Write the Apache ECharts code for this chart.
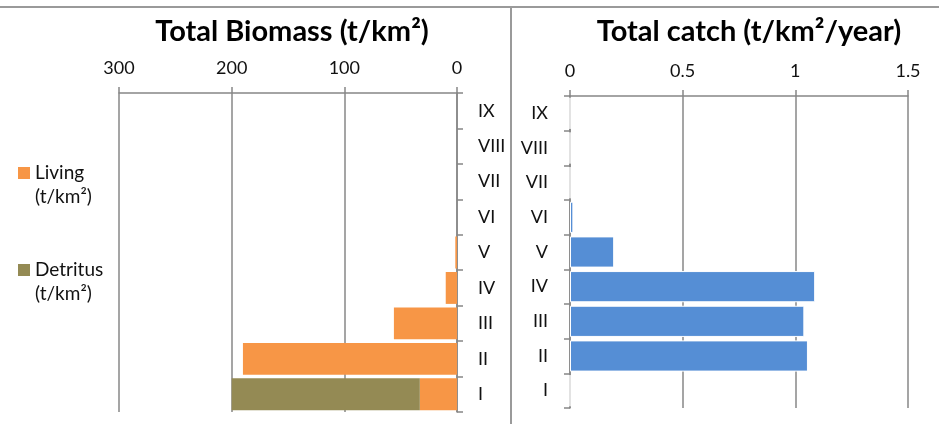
<!DOCTYPE html>
<html>
<head>
<meta charset="utf-8">
<script src="https://cdn.jsdelivr.net/npm/echarts@6/dist/echarts.min.js"></script>
<style>
  html, body { margin: 0; padding: 0; background: #fff; }
  #chart { width: 939px; height: 424px; }
</style>
</head>
<body>
<div id="chart"></div>
<script>
const levels = ['I', 'II', 'III', 'IV', 'V', 'VI', 'VII', 'VIII', 'IX'];
const living = [33, 190, 56, 10, 1.5, 0, 0, 0, 0];
const detritus = [167, 0, 0, 0, 0, 0, 0, 0, 0];
const catchValues = [0, 1.056, 1.04, 1.088, 0.196, 0.015, 0, 0, 0];

const chart = echarts.init(document.getElementById('chart'));

const gray = '#878787';
const font = 'Lato';

function valueAxis(grid, max, interval) {
    return {
        type: 'value',
        gridIndex: grid,
        position: 'top',
        min: 0,
        max: max,
        interval: interval,
        inverse: grid === 0,
        axisLine: { show: true, lineStyle: { color: gray, width: 1.5 } },
        axisTick: { show: true, length: 6, lineStyle: { color: gray, width: 1.5 } },
        splitLine: { show: true, lineStyle: { color: gray, width: 1.5 } },
        axisLabel: { margin: 16, color: '#111', fontFamily: font, fontSize: 18 }
    };
}

function levelAxis(grid, pos, margin) {
    return {
        type: 'category',
        gridIndex: grid,
        position: pos,
        data: levels,
        axisLine: { show: true, lineStyle: { color: gray, width: 1.5 } },
        axisTick: { show: true, length: 6, lineStyle: { color: gray, width: 1.5 } },
        axisLabel: { margin: margin, color: '#111', fontFamily: font, fontSize: 18 }
    };
}

// legend text: empty first line so that the name line sits level with the square
function legendItem(name, top) {
    return {
        data: [name],
        left: 18,
        top: top,
        padding: 0,
        itemWidth: 12,
        itemHeight: 12,
        icon: 'rect',
        selectedMode: false,
        formatter: (n) => '{t| }\n{t|' + n + '}\n{t|(t/km²)}',
        textStyle: {
            fontFamily: font, fontSize: 19, color: '#111', lineHeight: 24,
            rich: { t: { fontFamily: font, fontSize: 19, color: '#111', lineHeight: 24 } }
        }
    };
}

const option = {
    animation: false,
    title: [
        { text: 'Total Biomass (t/km²)', left: 287, top: 12, textAlign: 'center',
          textStyle: { fontFamily: font, fontWeight: 'bold', fontSize: 29, color: '#000' } },
        { text: 'Total catch (t/km²/year)', left: 744, top: 12, textAlign: 'center',
          textStyle: { fontFamily: font, fontWeight: 'bold', fontSize: 29, color: '#000' } }
    ],
    legend: [legendItem('Living', 137), legendItem('Detritus', 234)],
    grid: [
        { left: 119, top: 93, width: 338, height: 319 },
        { left: 570, top: 96, width: 338, height: 312 }
    ],
    xAxis: [valueAxis(0, 300, 100), valueAxis(1, 1.5, 0.5)],
    yAxis: [levelAxis(0, 'right', 21), levelAxis(1, 'left', 22)],
    graphic: [
        { type: 'line', shape: { x1: 0, y1: 7, x2: 939, y2: 7 }, style: { stroke: '#9a9a9a', lineWidth: 2 } },
        { type: 'line', shape: { x1: 511, y1: 7, x2: 511, y2: 424 }, style: { stroke: '#9a9a9a', lineWidth: 2 } }
    ],
    series: [
        { name: 'Living', type: 'bar', stack: 'bio', xAxisIndex: 0, yAxisIndex: 0,
          barCategoryGap: '10%', itemStyle: { color: '#F79646' }, data: living },
        { name: 'Detritus', type: 'bar', stack: 'bio', xAxisIndex: 0, yAxisIndex: 0,
          barCategoryGap: '10%', itemStyle: { color: '#948A54' }, data: detritus },
        { name: 'Catch', type: 'bar', xAxisIndex: 1, yAxisIndex: 1,
          barCategoryGap: '10%', itemStyle: { color: '#558ED5', borderColor: '#fff', borderWidth: 1 },
          data: catchValues }
    ]
};

chart.setOption(option);
</script>
</body>
</html>
